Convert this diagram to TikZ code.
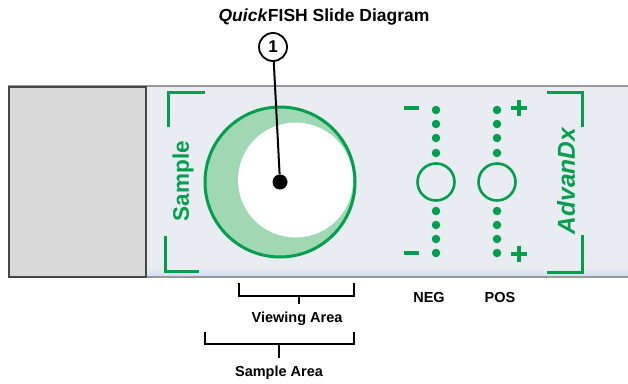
\documentclass[tikz,border=0pt]{standalone}
\usepackage{fontspec}
\setmainfont{Liberation Sans}
\definecolor{qgreen}{RGB}{0,158,78}
\definecolor{qlight}{RGB}{160,216,180}
\definecolor{slidebg}{RGB}{233,236,241}
\definecolor{labelgray}{RGB}{217,217,217}
\begin{document}
\begin{tikzpicture}[x=1pt,y=-1pt,
  gbr/.style={draw=qgreen,line width=3pt},
  bbr/.style={draw=black,line width=1.6pt},
  gdot/.style={circle,fill=qgreen,inner sep=0pt,minimum size=8.5pt},
  sign/.style={draw=qgreen,line width=4pt},
  ctrl/.style={circle,draw=qgreen,line width=2.6pt,minimum size=37pt,inner sep=0pt},
  lbl/.style={font=\bfseries\fontsize{14.5}{16}\selectfont,text=black},
]
\useasboundingbox (0,0) rectangle (628,383);
\fill[white] (0,0) rectangle (628,383);
% slide body
\fill[slidebg] (8,86) rectangle (628,277);
\fill[top color=slidebg,bottom color={rgb,255:red,205;green,220;blue,245}] (145,268) rectangle (628,277);
\draw[gray!80,line width=1.5pt] (8,86) -- (628,86);
\draw[gray!80,line width=1.5pt] (8,277) -- (628,277);
% label area
\node[draw={rgb,255:red,70;green,70;blue,70},line width=1.6pt,fill=labelgray,minimum width=137pt,minimum height=190pt,inner sep=0pt,anchor=north west] (label) at (8,86) {};
% title
\node[font=\bfseries\fontsize{17.5}{20}\selectfont] (title) at (324,17) {\textit{Quick}FISH Slide Diagram};
% sample well
\node[circle,fill=qlight,minimum size=150pt,inner sep=0pt] (well) at (280,182) {};
\node[circle,fill=white,minimum size=115pt,inner sep=0pt] (view) at (295.5,180) {};
\node[circle,draw=qgreen,line width=3pt,minimum size=150pt,inner sep=0pt] (ring) at (280,182) {};
% callout
\node[circle,draw=black,line width=1.8pt,minimum size=28pt,inner sep=0pt,font=\bfseries\fontsize{17}{18}\selectfont,fill=white] (n1) at (273,47) {1};
\node[circle,fill=black,minimum size=15pt,inner sep=0pt] (dot) at (280,182) {};
\draw[line width=2pt] (n1) -- (dot);
% Sample bracket
\draw[gbr] (205,92) -- (168,92) -- (168,127);
\draw[gbr] (165,236) -- (165,271) -- (199,271);
\node[rotate=90,text=qgreen,font=\bfseries\fontsize{22.5}{24}\selectfont] (samplelbl) at (183,181) {Sample};
% AdvanDx bracket
\draw[gbr] (547,92) -- (582,92) -- (582,127);
\draw[gbr] (582,235) -- (582,272) -- (547,272);
\node[rotate=90,text=qgreen,font=\bfseries\itshape\fontsize{24.5}{26}\selectfont] (advlbl) at (566,181) {AdvanDx};
% NEG control
\node[ctrl] (neg) at (436,182) {};
\foreach \y/\n in {110/a,124/b,138/c,153/d,211/e,225/f,239/g,253/h}
  \node[gdot] (nd\n) at (436,\y) {};
\draw[sign] (404,108) -- (419,108);
\draw[sign] (404,253) -- (419,253);
% POS control
\node[ctrl] (pos) at (497,182) {};
\foreach \y/\n in {110/a,124/b,138/c,153/d,211/e,225/f,239/g,253/h}
  \node[gdot] (pd\n) at (497,\y) {};
\draw[sign] (511,108) -- (527,108) (519,100) -- (519,116);
\draw[sign] (511,254) -- (527,254) (519,246) -- (519,262);
\node[lbl] (neglbl) at (429,298) {NEG};
\node[lbl] (poslbl) at (500,298) {POS};
% dimension brackets
\draw[bbr] (239,283) -- (239,296) -- (354,296) -- (354,283);
\draw[bbr] (299,296) -- (299,304);
\node[lbl] (vlbl) at (297,319) {Viewing Area};
\draw[bbr] (205,332) -- (205,344) -- (354,344) -- (354,332);
\draw[bbr] (279,344) -- (279,358);
\node[lbl] (slbl) at (279,373) {Sample Area};
\end{tikzpicture}
\end{document}
